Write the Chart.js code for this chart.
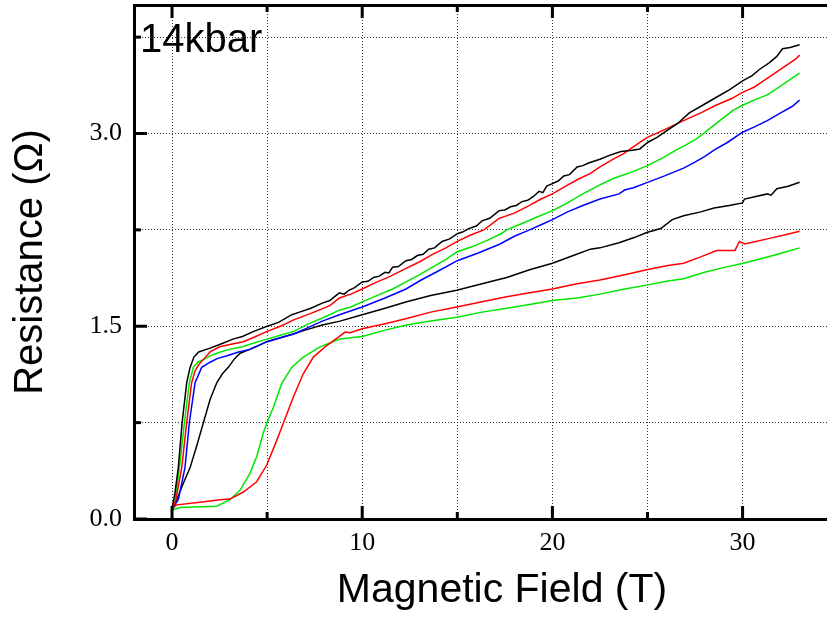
<!DOCTYPE html>
<html>
<head>
<meta charset="utf-8">
<script src="https://cdn.jsdelivr.net/npm/chart.js@4.4.1/dist/chart.umd.min.js"></script>
<style>
  html,body{margin:0;padding:0;background:#fff;overflow:hidden;}
  #wrap{width:827px;height:617px;overflow:hidden;position:relative;}
  canvas{display:block;}
</style>
</head>
<body>
<div id="wrap"><canvas id="rh" width="870" height="617"></canvas></div>
<script>
// ----- axis setup -----
const X_MIN = -2, X_MAX = 36.7;
const Y_MIN = 0, Y_MAX = 4.0;
const xTicks = [0,5,10,15,20,25,30,35];
const xLabels = [0,10,20,30];
const yTicks = [0,0.75,1.5,2.25,3.0,3.75];
const yLabels = [0,1.5,3.0];
const pressureLabel = "14kbar";

// ----- sweeps: field (T) / resistance (Ohm) -----
const blackHiX = [0,0.15,0.33,0.53,0.77,0.95,1.15,1.4,2.0,2.7,3.2,3.7,4.3,5.0,5.6,6.3,6.7,7.3,7.9,8.3,8.55,8.8,9.05,9.3,9.6,10.0,10.3,10.6,10.9,11.2,11.4,11.6,11.9,12.3,12.6,12.9,13.2,13.5,13.8,14.2,14.6,15.0,15.3,15.6,16.0,16.3,16.7,17.2,17.5,17.8,18.1,18.4,18.7,19.0,19.3,19.5,19.7,20.0,20.3,20.6,20.9,21.3,21.6,21.9,22.5,23.0,23.6,24.2,24.6,25.0,25.5,26.0,26.6,27.2,27.9,28.6,29.3,30.0,30.5,30.9,31.4,31.8,32.1,32.5,33.0];
const blackHiY = [0.085,0.2,0.40,0.75,1.06,1.18,1.26,1.30,1.33,1.37,1.40,1.42,1.46,1.50,1.53,1.59,1.61,1.64,1.68,1.70,1.73,1.76,1.75,1.78,1.80,1.845,1.85,1.88,1.89,1.92,1.915,1.96,1.965,2.01,2.02,2.05,2.06,2.10,2.11,2.16,2.18,2.22,2.235,2.26,2.28,2.32,2.34,2.40,2.405,2.43,2.44,2.47,2.48,2.51,2.55,2.54,2.59,2.61,2.63,2.67,2.68,2.74,2.75,2.77,2.80,2.83,2.86,2.87,2.88,2.93,2.97,3.02,3.08,3.16,3.22,3.28,3.34,3.41,3.45,3.50,3.55,3.60,3.66,3.67,3.69];

const redHiX = [0,0.2,0.51,0.77,1.03,1.2,1.4,1.7,2.0,2.5,3.1,3.75,4.4,5.0,5.7,6.4,7.3,8.3,8.8,9.4,10.0,10.7,11.5,12.3,13.0,13.7,14.4,15.0,15.7,16.4,17.2,18.0,18.8,19.4,20.0,20.7,21.3,22.0,22.5,23.2,23.7,24.6,25.0,25.9,26.9,27.8,28.6,29.4,30.0,30.6,31.1,31.7,32.3,32.8,33.0];
const redHiY = [0.07,0.15,0.40,0.75,1.06,1.15,1.20,1.25,1.30,1.34,1.36,1.38,1.42,1.46,1.50,1.55,1.60,1.66,1.72,1.75,1.79,1.84,1.89,1.95,2.00,2.06,2.11,2.16,2.21,2.25,2.34,2.38,2.44,2.49,2.53,2.59,2.64,2.69,2.74,2.80,2.84,2.93,2.97,3.03,3.10,3.16,3.22,3.27,3.32,3.36,3.41,3.47,3.53,3.58,3.61];

const greenHiX = [0,0.16,0.39,0.65,0.91,1.12,1.35,1.65,2.0,2.35,3.0,3.7,4.3,5.0,5.7,6.4,7.2,8.0,8.8,9.4,10.0,10.8,11.6,12.3,13.0,13.7,14.4,15.0,15.8,16.6,17.3,17.6,18.4,19.2,20.0,20.8,21.6,22.5,23.2,24.0,25.0,25.8,26.5,27.0,27.6,28.2,28.8,29.5,30.0,30.6,31.3,31.8,32.3,32.7,33.0];
const greenHiY = [0.07,0.15,0.40,0.75,1.06,1.18,1.22,1.24,1.27,1.29,1.32,1.34,1.37,1.40,1.43,1.46,1.52,1.57,1.625,1.65,1.69,1.74,1.79,1.845,1.90,1.96,2.02,2.08,2.12,2.17,2.22,2.25,2.30,2.35,2.40,2.46,2.53,2.60,2.65,2.69,2.75,2.81,2.87,2.91,2.96,3.03,3.10,3.18,3.22,3.26,3.30,3.35,3.40,3.44,3.47];

const blueX = [0,0.33,0.68,0.91,1.21,1.56,2.0,2.4,2.9,3.5,4.1,5.0,5.7,6.4,7.0,7.9,8.8,10.0,11.2,12.3,13.1,14.0,15.0,16.1,17.25,18.0,18.8,19.4,20.0,20.8,21.6,22.5,23.5,23.8,24.3,25.0,25.9,26.9,27.4,28.0,28.5,29.2,30.0,30.6,31.3,32.0,32.6,33.0];
const blueY = [0.08,0.15,0.40,0.75,1.06,1.18,1.22,1.25,1.27,1.30,1.32,1.38,1.41,1.44,1.48,1.54,1.59,1.65,1.72,1.79,1.86,1.93,2.01,2.07,2.14,2.20,2.25,2.29,2.33,2.39,2.44,2.49,2.53,2.56,2.58,2.62,2.67,2.73,2.77,2.82,2.87,2.93,3.01,3.05,3.10,3.16,3.21,3.26];

const blackLoX = [0,0.25,0.6,0.95,1.3,1.65,2.0,2.35,2.65,2.96,3.3,3.58,3.93,4.4,4.98,5.7,6.37,7.0,7.9,8.83,10.0,11.2,12.34,13.6,14.97,16.3,17.6,18.8,20.0,21.1,22.0,22.5,23.5,24.3,24.96,25.7,26.3,26.9,27.8,28.5,29.3,30.0,30.1,30.7,31.3,31.5,31.8,32.4,33.0];
const blackLoY = [0.08,0.15,0.28,0.40,0.57,0.75,0.93,1.06,1.13,1.18,1.25,1.29,1.31,1.34,1.38,1.41,1.44,1.47,1.51,1.54,1.59,1.64,1.69,1.74,1.78,1.83,1.88,1.94,1.99,2.05,2.10,2.11,2.15,2.19,2.23,2.26,2.33,2.36,2.39,2.42,2.44,2.46,2.49,2.51,2.53,2.52,2.57,2.59,2.62];

const redLoX = [0,0.25,1.47,2.52,3.05,3.75,4.45,4.98,5.5,5.85,6.38,6.9,7.43,8.13,8.66,9.1,9.36,10.0,11.2,12.34,13.6,14.97,16.3,17.6,18.8,20.0,21.3,22.5,23.8,24.96,26.0,26.9,27.8,28.64,29.0,29.6,29.83,30.1,30.7,31.3,32.2,33.0];
const redLoY = [0.08,0.11,0.13,0.15,0.155,0.21,0.29,0.42,0.61,0.745,0.95,1.13,1.26,1.35,1.405,1.455,1.45,1.48,1.52,1.56,1.61,1.65,1.69,1.73,1.76,1.79,1.83,1.86,1.90,1.94,1.97,1.99,2.04,2.09,2.09,2.09,2.16,2.14,2.16,2.18,2.21,2.24];

const greenLoX = [0,0.42,1.5,2.35,3.05,3.58,4.1,4.45,4.8,4.98,5.33,5.77,6.29,6.9,7.78,8.83,10.0,11.2,12.34,13.6,14.97,16.3,17.6,18.8,20.0,21.3,22.5,23.8,24.96,26.0,26.9,28.0,29.1,30.04,30.8,31.6,32.3,33.0];
const greenLoY = [0.07,0.09,0.095,0.10,0.15,0.225,0.355,0.485,0.67,0.745,0.87,1.055,1.18,1.26,1.34,1.40,1.42,1.47,1.51,1.54,1.57,1.61,1.64,1.67,1.70,1.72,1.75,1.79,1.82,1.85,1.87,1.92,1.96,1.99,2.02,2.05,2.08,2.11];

// ----- helpers -----
const pts = (xs, ys)=> xs.map((x,i)=>({x, y: ys[i]}));
const sweep = (xs, ys, color)=>({
  data: pts(xs, ys), borderColor: color, backgroundColor: color,
  borderWidth: 1.5, pointRadius: 0, showLine: true, tension: 0, fill: false
});
const serif = "'Liberation Serif','Times New Roman',serif";
const sans = "'Liberation Sans',Arial,Helvetica,sans-serif";
// drop the half-label padding chart.js reserves at the axis ends
const noEndPad = s=>{ s.paddingTop = 0; s.paddingBottom = 0; s.paddingLeft = 0; s.paddingRight = 0; };

// inward tick marks on left, bottom and top edges, plus the pressure tag
const frameTicks = {
  id: "frameTicks",
  afterDraw(chart){
    const {ctx, chartArea: a, scales} = chart;
    ctx.save();
    ctx.strokeStyle = "#000"; ctx.lineWidth = 3;
    scales.x.ticks.forEach(t=>{
      const px = scales.x.getPixelForValue(t.value);
      if(px < a.left || px > a.right) return;
      const len = xLabels.includes(t.value) ? 13 : 7;
      ctx.beginPath(); ctx.moveTo(px, a.bottom); ctx.lineTo(px, a.bottom - len); ctx.stroke();
      ctx.beginPath(); ctx.moveTo(px, a.top); ctx.lineTo(px, a.top + len); ctx.stroke();
    });
    scales.y.ticks.forEach(t=>{
      const py = scales.y.getPixelForValue(t.value);
      const len = yLabels.includes(t.value) ? 13 : 7;
      ctx.beginPath(); ctx.moveTo(a.left, py); ctx.lineTo(a.left + len, py); ctx.stroke();
    });
    ctx.fillStyle = "#000";
    ctx.font = "40px " + sans;
    ctx.textBaseline = "alphabetic"; ctx.textAlign = "left";
    ctx.fillText(pressureLabel, a.left + 6, a.top + 47);
    ctx.restore();
  }
};

const gridOpts = { color: "#333", lineWidth: 1, drawTicks: false };
const borderOpts = { color: "#000", width: 3, dash: [1,2] };

new Chart(document.getElementById("rh"), {
  type: "scatter",
  data: { datasets: [
    sweep(blackHiX, blackHiY, "#000000"),
    sweep(redHiX, redHiY, "#ff0000"),
    sweep(greenHiX, greenHiY, "#00e600"),
    sweep(blueX, blueY, "#0000ff"),
    sweep(blackLoX, blackLoY, "#000000"),
    sweep(redLoX, redLoY, "#ff0000"),
    sweep(greenLoX, greenLoY, "#00e600")
  ]},
  options: {
    responsive: false, animation: false, devicePixelRatio: 1,
    layout: { padding: 0 },
    plugins: { legend: { display: false }, tooltip: { enabled: false } },
    scales: {
      x: {
        type: "linear", position: "bottom", min: X_MIN, max: X_MAX,
        afterBuildTicks: s=>{ s.ticks = xTicks.map(v=>({value: v})); },
        afterFit: s=>{ s.height = 98; noEndPad(s); },
        grid: gridOpts, border: borderOpts,
        ticks: { padding: 9, color: "#000", font: { family: serif, size: 26 },
                 callback: v=> xLabels.includes(v) ? String(v) : "" },
        title: { display: true, text: "Magnetic Field (T)", color: "#000",
                 font: { family: sans, size: 41 }, padding: { top: 0, bottom: 2 } }
      },
      xTop: {
        type: "linear", position: "top", min: X_MIN, max: X_MAX,
        afterFit: s=>{ s.height = 5; noEndPad(s); },
        grid: { display: false, drawTicks: false },
        border: { color: "#000", width: 3 },
        ticks: { display: false }
      },
      y: {
        type: "linear", position: "left", min: Y_MIN, max: Y_MAX,
        afterBuildTicks: s=>{ s.ticks = yTicks.map(v=>({value: v})); },
        afterFit: s=>{ s.width = 134; noEndPad(s); },
        grid: gridOpts, border: borderOpts,
        ticks: { padding: 12, color: "#000", font: { family: serif, size: 26 },
                 callback: v=> yLabels.includes(v) ? v.toFixed(1) : "" },
        title: { display: true, text: "Resistance (Ω)", color: "#000",
                 font: { family: sans, size: 40 }, padding: { top: 7, bottom: 0 } }
      }
    }
  },
  plugins: [frameTicks]
});
</script>
</body>
</html>
